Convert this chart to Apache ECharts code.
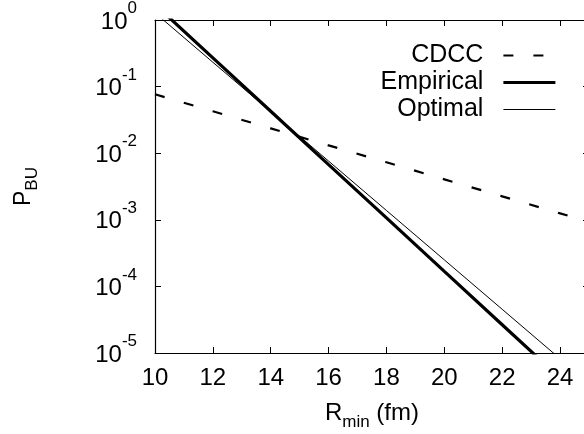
<!DOCTYPE html>
<html>
<head>
<meta charset="utf-8">
<script src="https://cdn.jsdelivr.net/npm/echarts@6/dist/echarts.min.js"></script>
<style>
  html, body { margin: 0; padding: 0; background: #fff; }
  #chart { width: 584px; height: 434px; }
</style>
</head>
<body>
<div id="chart"></div>
<script>
// values (R_min in fm, P_BU)
var rValues   = [10, 12, 14, 16, 18, 20, 22, 24, 25];
var cdcc      = [0.0766, 0.0426, 0.0236, 0.0131, 0.0073, 0.00405, 0.00225, 0.00125, 0.00093];
var empirical = [1.71, 0.27, 0.0427, 0.00674, 0.00107, 1.68e-4, 2.66e-5, 4.2e-6, 1.7e-6];
var optimal   = [1.28, 0.232, 0.042, 0.00761, 0.00138, 2.5e-4, 4.53e-5, 8.2e-6, 3.5e-6];
var xTicks    = [10, 12, 14, 16, 18, 20, 22, 24];
var seriesNames = ['CDCC', 'Empirical', 'Optimal'];

var FONT = '"Liberation Sans", Arial, Helvetica, sans-serif';

function pairs(ys) {
    var out = [];
    for (var i = 0; i < rValues.length; i++) {
        out.push([rValues[i], ys[i]]);
    }
    return out;
}

var chart = echarts.init(document.getElementById('chart'), null, { renderer: 'canvas' });

var frameLine = { show: true, onZero: false, lineStyle: { color: '#000', width: 1.2 } };
var tickIn = { show: true, inside: true, length: 6, lineStyle: { color: '#000', width: 1 } };

var option = {
    animation: false,
    backgroundColor: '#fff',
    // frame runs past the right edge of the picture (x = 25 is cut off)
    grid: { left: 155, top: 20, width: 434, height: 333, containLabel: false, outerBoundsMode: 'none' },
    legend: {
        orient: 'vertical',
        right: 22,
        top: 38,
        align: 'right',
        itemWidth: 52,
        itemHeight: 14,
        itemGap: 2,
        selectedMode: false,
        data: seriesNames,
        itemStyle: { opacity: 0 },
        lineStyle: { width: 'inherit' },
        textStyle: { fontFamily: FONT, fontSize: 25, color: '#000', padding: [0, 15, 0, 0] }
    },
    xAxis: [{
        type: 'value',
        min: 10,
        max: 25,
        interval: 2,
        position: 'bottom',
        axisLine: frameLine,
        axisTick: tickIn,
        splitLine: { show: false },
        axisLabel: {
            margin: 13,
            fontFamily: FONT,
            fontSize: 24,
            color: '#000',
            formatter: function (v) { return xTicks.indexOf(v) >= 0 ? String(v) : ''; }
        },
        name: '{b|R}{s|min}{b| (fm)}',
        nameLocation: 'middle',
        nameGap: 43,
        nameTextStyle: {
            rich: {
                b: { fontFamily: FONT, fontSize: 24, color: '#000' },
                s: { fontFamily: FONT, fontSize: 17, color: '#000', padding: [18, 0, 0, 0] }
            }
        }
    }, {
        type: 'value',
        min: 10,
        max: 25,
        interval: 2,
        position: 'top',
        axisLine: frameLine,
        axisTick: tickIn,
        axisLabel: { show: false },
        splitLine: { show: false }
    }],
    yAxis: [{
        type: 'log',
        logBase: 10,
        min: 1e-5,
        max: 1,
        position: 'left',
        axisLine: frameLine,
        axisTick: tickIn,
        minorTick: { show: false },
        splitLine: { show: false },
        axisLabel: {
            margin: 18,
            formatter: function (v) {
                var e = Math.round(Math.log(v) / Math.LN10);
                return '{b|10}{s|' + e + '}';
            },
            rich: {
                b: { fontFamily: FONT, fontSize: 24, color: '#000', padding: [4, 0, 0, 0] },
                s: { fontFamily: FONT, fontSize: 17, color: '#000', padding: [0, 0, 23, 0] }
            }
        },
        name: '{b|P}{s|BU}',
        nameLocation: 'middle',
        nameRotate: 90,
        nameGap: 114,
        nameTextStyle: {
            rich: {
                b: { fontFamily: FONT, fontSize: 23, color: '#000' },
                s: { fontFamily: FONT, fontSize: 17, color: '#000', padding: [18, 0, 0, 0] }
            }
        }
    }, {
        type: 'log',
        logBase: 10,
        min: 1e-5,
        max: 1,
        position: 'right',
        axisLine: frameLine,
        axisTick: tickIn,
        axisLabel: { show: false },
        splitLine: { show: false }
    }],
    series: [{
        name: 'CDCC',
        type: 'line',
        xAxisIndex: 0,
        yAxisIndex: 0,
        symbol: 'none',
        clip: true,
        data: pairs(cdcc),
        lineStyle: { color: '#000', width: 2.2, type: [10, 20] },
        itemStyle: { color: '#000' }
    }, {
        name: 'Empirical',
        type: 'line',
        xAxisIndex: 0,
        yAxisIndex: 0,
        symbol: 'none',
        clip: true,
        data: pairs(empirical),
        lineStyle: { color: '#000', width: 3.2 },
        itemStyle: { color: '#000' }
    }, {
        name: 'Optimal',
        type: 'line',
        xAxisIndex: 0,
        yAxisIndex: 0,
        symbol: 'none',
        clip: true,
        data: pairs(optimal),
        lineStyle: { color: '#000', width: 1 },
        itemStyle: { color: '#000' }
    }]
};

chart.setOption(option);
</script>
</body>
</html>
